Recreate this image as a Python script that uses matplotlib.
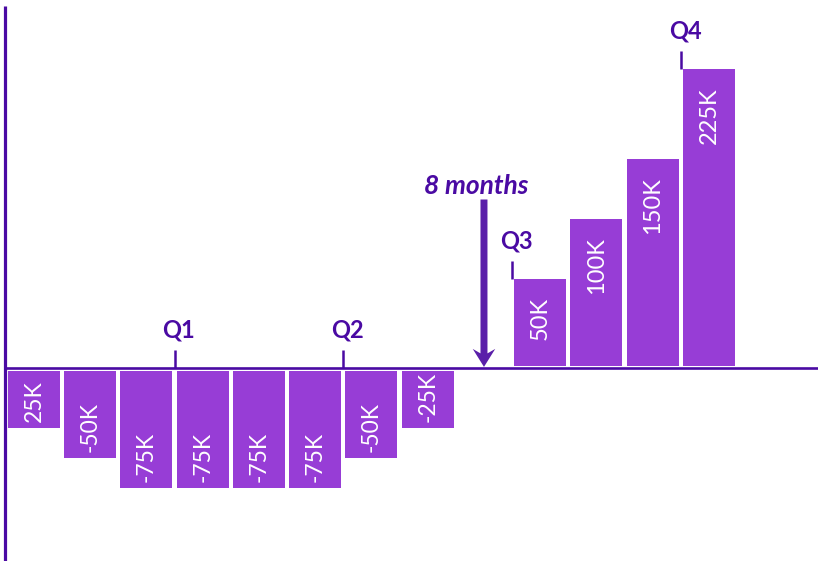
"""
Cumulative cash flow by month, with quarter markers.
"""

import matplotlib
matplotlib.use("Agg")
import matplotlib.pyplot as plt
from matplotlib.patches import FancyArrow

plt.rcParams["font.family"] = ["Lato", "DejaVu Sans"]

# data (values in K)
months = [0, 1, 2, 3, 4, 5, 6, 7, 9, 10, 11, 12]
values = [-25, -50, -75, -75, -75, -75, -50, -25, 50, 100, 150, 225]
bar_labels = ["25K", "-50K", "-75K", "-75K", "-75K", "-75K", "-50K", "-25K",
              "50K", "100K", "150K", "225K"]
quarters = ["Q1", "Q2", "Q3", "Q4"]
quarter_ends = [3, 6, 9, 12]      # months after which each quarter marker sits
arrow_month = 8
arrow_label = "8 months"

BAR = "#973dd6"
DARK = "#4a0aa3"
ARROW = "#5a1fa9"
pad = 22          # label room added to every bar
pos_gap, neg_gap = 1.5, 3.0

fig = plt.figure(figsize=(8.18, 5.61), dpi=100)
ax = fig.add_axes([0, 0, 1, 1])
ax.set_xlim(-0.604, 13.938)
ax.set_ylim(-161.25, 306.25)
ax.axis("off")

tops = {}
for m, v, lab in zip(months, values, bar_labels):
    if v >= 0:
        h = v + pad
        ax.bar(m, h, width=0.924, bottom=pos_gap, color=BAR, linewidth=0)
        top = pos_gap + h
        tops[m] = top
        ax.annotate(lab, (m, top), xytext=(0, -13), textcoords="offset points",
                    rotation=90, ha="center", va="top", color="white", fontsize=17)
    else:
        h = v - pad
        ax.bar(m, h, width=0.924, bottom=-neg_gap, color=BAR, linewidth=0)
        bot = -neg_gap + h
        tops[m] = 0
        ax.annotate(lab, (m, bot), xytext=(0, 4), textcoords="offset points",
                    rotation=90, ha="center", va="bottom", color="white", fontsize=16.5)

# axes lines
ax.plot([-0.516, 13.938], [0, 0], color=DARK, lw=1.9, solid_capstyle="butt")
ax.plot([-0.516, -0.516], [301, -161.25], color=DARK, lw=2.3, solid_capstyle="butt")

# quarter markers
for q, e in zip(quarters, quarter_ends):
    x = e - 0.5
    base = tops.get(e, 0)
    ax.plot([x, x], [base, base + 15], color=DARK, lw=1.8, solid_capstyle="butt")
    ax.annotate(q, (x, base + 15), xytext=(3, 6), textcoords="offset points",
                ha="center", va="bottom", color=DARK, fontsize=17, fontweight="bold")

# arrow
ax.add_patch(FancyArrow(arrow_month, 140, 0, -139.5, width=0.124, head_width=0.4,
                        head_length=15, overhang=0.25, length_includes_head=True,
                        color=ARROW, linewidth=0))
ax.text(arrow_month - 0.14, 145, arrow_label, ha="center", va="baseline",
        color=DARK, fontsize=19, fontweight="bold", fontstyle="italic")

plt.savefig("out.png", dpi=100)
plt.close()
